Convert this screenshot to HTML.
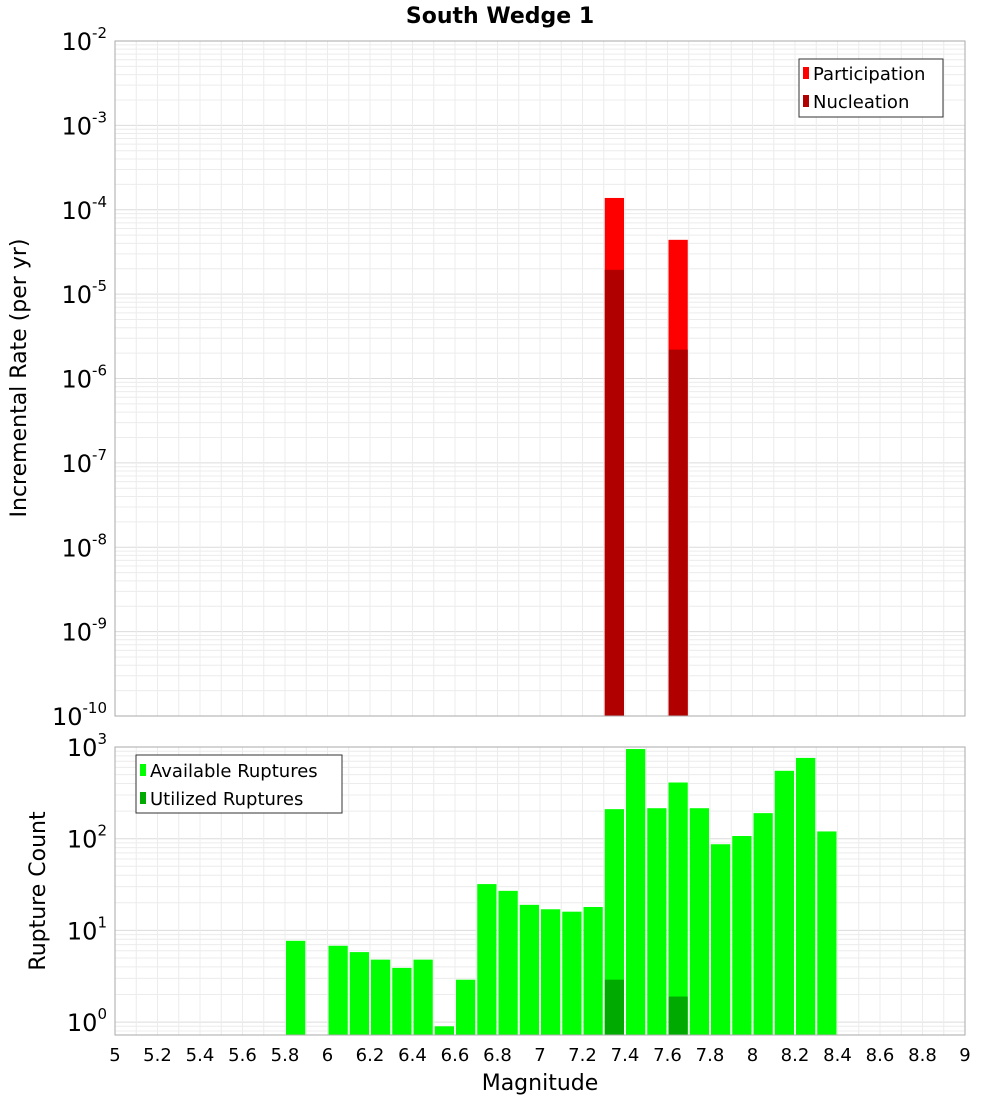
<!DOCTYPE html>
<html><head><meta charset="utf-8"><style>
body{margin:0;background:#fff}
svg{display:block;font-family:"DejaVu Sans","Liberation Sans",sans-serif}
</style></head><body>
<svg id="c" width="1000" height="1100" xmlns="http://www.w3.org/2000/svg">
<text x="500" y="23" text-anchor="middle" font-size="22" font-weight="bold">South Wedge 1</text>
<g id="topPanel"></g>
<g id="botPanel"></g>
<text transform="translate(26,378) rotate(-90)" text-anchor="middle" font-size="22">Incremental Rate (per yr)</text>
<text transform="translate(45,891) rotate(-90)" text-anchor="middle" font-size="22">Rupture Count</text>
<text x="540" y="1090" text-anchor="middle" font-size="22">Magnitude</text>
</svg>
<script>
const rateMags=[7.35,7.65];
const participation=[1.38e-4,4.4e-5];
const nucleation=[1.94e-5,2.2e-6];
const countMags=[5.85,6.05,6.15,6.25,6.35,6.45,6.55,6.65,6.75,6.85,6.95,7.05,7.15,7.25,7.35,7.45,7.55,7.65,7.75,7.85,7.95,8.05,8.15,8.25,8.35];
const available=[7.7,6.8,5.8,4.8,3.9,4.8,0.9,2.9,32,27,19,17,16,18,210,950,215,410,215,87,107,190,550,760,120];
const utilMags=[7.35,7.65];
const utilized=[2.9,1.9];
const xTicks=[5,5.2,5.4,5.6,5.8,6,6.2,6.4,6.6,6.8,7,7.2,7.4,7.6,7.8,8,8.2,8.4,8.6,8.8,9];
const NS='http://www.w3.org/2000/svg';
const X0=115,X1=965;
const xs=m=>X0+(m-5)/4*(X1-X0);
const yT=v=>41+(-2-Math.log10(v))*(716-41)/8;
const yB=v=>747+(3-Math.log10(v))*91.7;
function el(p,t,a){const e=document.createElementNS(NS,t);for(const k in a)e.setAttribute(k,a[k]);p.appendChild(e);return e;}
const topG=document.getElementById('topPanel'),botG=document.getElementById('botPanel');
function grid(g,yf,lo,hi,y0,y1){
  for(let d=lo;d<hi;d++)for(let k=1;k<10;k++){const yy=yf(k*Math.pow(10,d));if(yy<y0-0.5||yy>y1+0.5)continue;
    const l=el(g,'line',{x1:X0,x2:X1,y1:yy,y2:yy,stroke:k==1?'#dcdcdc':'#ececec','stroke-width':1});
    
    }
  for(let i=0;i<=40;i++){const xx=xs(5+i*0.1);const l=el(g,'line',{x1:xx,x2:xx,y1:y0,y2:y1,stroke:'#ececec','stroke-width':1});
    
    }
}
function bar(g,m,v,yf,yb,col,name){const r=el(g,'rect',{x:xs(m-0.05)+1,width:xs(m+0.05)-xs(m-0.05)-2,y:yf(v),height:yb-yf(v),fill:col});
  
  }
function pow10Label(g,yy,d,xpos){const tt=el(g,'text',{x:xpos,y:yy+9,'text-anchor':'end','font-size':24});
  
  
  tt.appendChild(document.createTextNode('10'));
  const sp=el(tt,'tspan',{dy:-12,'font-size':15});sp.textContent=String(d);}
// top panel
grid(topG,yT,-10,-2,41,716);
rateMags.forEach((m,i)=>bar(topG,m,participation[i],yT,716,'#ff0000','participation-bar'));
rateMags.forEach((m,i)=>bar(topG,m,nucleation[i],yT,716,'#b00000','nucleation-bar'));
el(topG,'rect',{x:X0,y:41,width:X1-X0,height:675,fill:'none',stroke:'#aaa'});
for(let d=-10;d<=-2;d++)pow10Label(topG,yT(Math.pow(10,d)),d,107);
const lg1=el(topG,'g',{});


el(lg1,'rect',{x:799,y:59,width:144,height:58,fill:'#fff',stroke:'#333'});
el(lg1,'rect',{x:803,y:67,width:6,height:12,fill:'#ff0000'});
el(lg1,'rect',{x:803,y:95,width:6,height:12,fill:'#b00000'});
let t=el(lg1,'text',{x:813,y:80,'font-size':18});t.textContent='Participation';
t=el(lg1,'text',{x:813,y:108,'font-size':18});t.textContent='Nucleation';
// bottom panel
grid(botG,yB,-1,3,747,1035);
countMags.forEach((m,i)=>bar(botG,m,available[i],yB,1035,'#00ff00','available-bar'));
utilMags.forEach((m,i)=>bar(botG,m,utilized[i],yB,1035,'#00aa00','utilized-bar'));
el(botG,'rect',{x:X0,y:747,width:X1-X0,height:288,fill:'none',stroke:'#aaa'});
for(let d=0;d<=3;d++)pow10Label(botG,yB(Math.pow(10,d)),d,107);
xTicks.forEach(m=>{const tt=el(botG,'text',{x:xs(m),y:1061,'text-anchor':'middle','font-size':18});
  
  
  tt.textContent=String(m);});
const lg2=el(botG,'g',{});


el(lg2,'rect',{x:136,y:755,width:206,height:58,fill:'#fff',stroke:'#333'});
el(lg2,'rect',{x:140,y:764,width:6,height:12,fill:'#00ff00'});
el(lg2,'rect',{x:140,y:792,width:6,height:12,fill:'#00aa00'});
t=el(lg2,'text',{x:150,y:777,'font-size':18});t.textContent='Available Ruptures';
t=el(lg2,'text',{x:150,y:805,'font-size':18});t.textContent='Utilized Ruptures';
</script>
</body></html>
